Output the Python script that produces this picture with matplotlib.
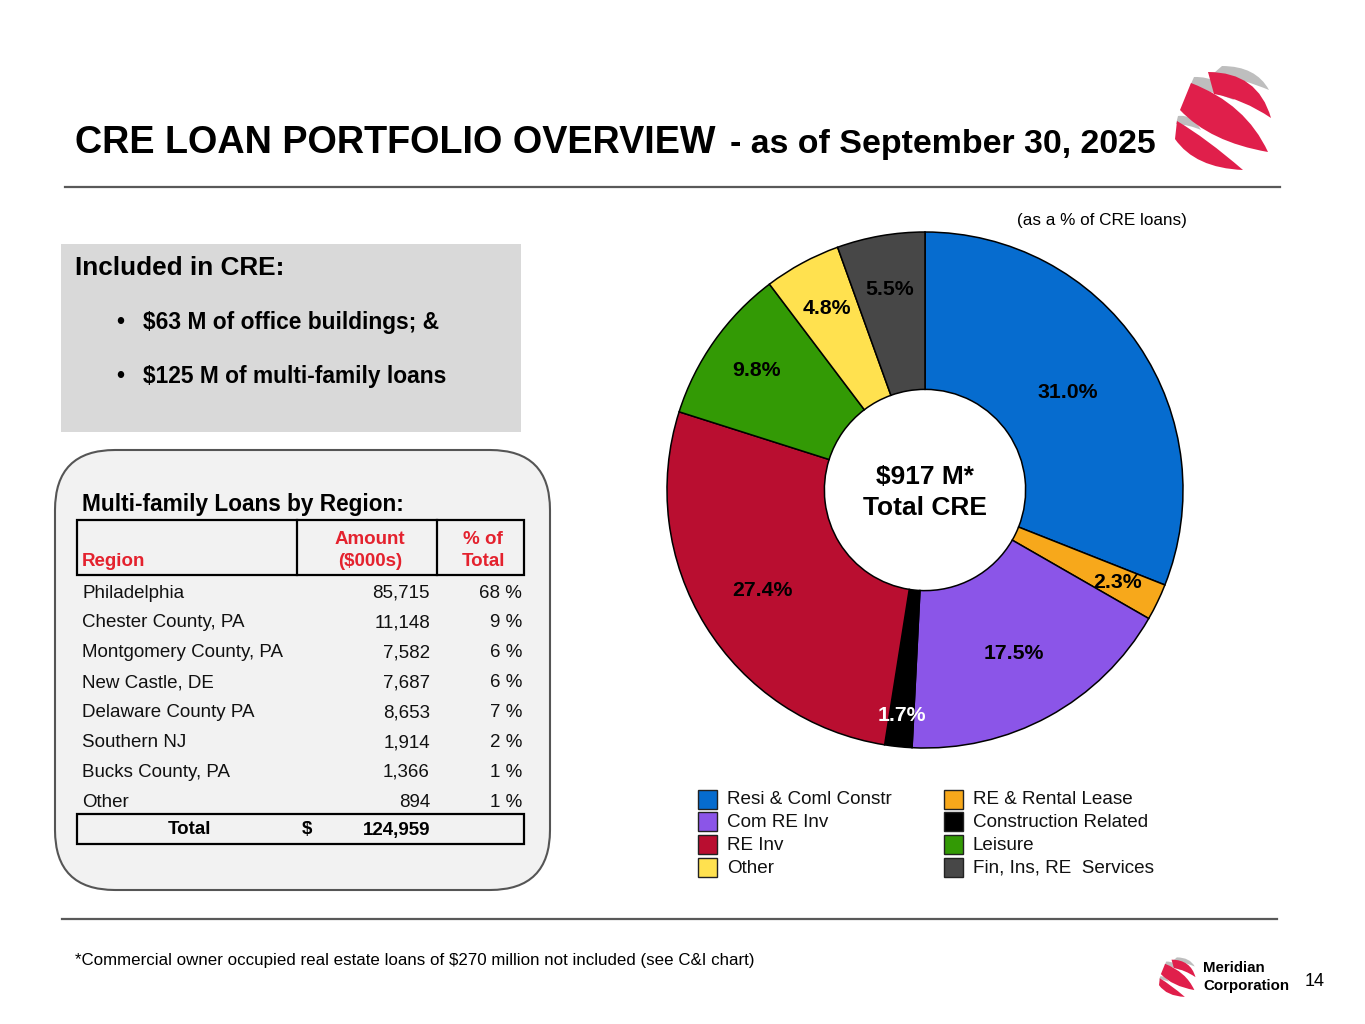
import matplotlib
matplotlib.use("Agg")
import matplotlib.pyplot as plt
from matplotlib.patches import Rectangle, FancyBboxPatch, PathPatch
from matplotlib.path import Path
import numpy as np

plt.rcParams["font.family"] = ["Liberation Sans", "DejaVu Sans"]

# pie data (clockwise from 12 o'clock)
segments = ["Resi & Coml Constr", "RE & Rental Lease", "Com RE Inv", "Construction Related",
            "RE Inv", "Leisure", "Other", "Fin, Ins, RE  Services"]
shares = [31.0, 2.3, 17.5, 1.7, 27.4, 9.8, 4.8, 5.5]
seg_colors = ["#066CCF", "#F7A81B", "#8B55E8", "#000000",
              "#B90E30", "#339A05", "#FFE14F", "#474747"]
# legend order (left column then right column)
legend_order = ["Resi & Coml Constr", "Com RE Inv", "RE Inv", "Other",
                "RE & Rental Lease", "Construction Related", "Leisure", "Fin, Ins, RE  Services"]

# multi-family table
regions = ["Philadelphia", "Chester County, PA", "Montgomery County, PA", "New Castle, DE",
           "Delaware County PA", "Southern NJ", "Bucks County, PA", "Other"]
amounts = [85715, 11148, 7582, 7687, 8653, 1914, 1366, 894]
pct_total = [68, 9, 6, 6, 7, 2, 1, 1]
total_amount = 124959

included = ["$63 M of office buildings; &", "$125 M of multi-family loans"]

RED_HDR = "#E4222E"

fig = plt.figure(figsize=(13.65, 10.24), dpi=100)
ax = fig.add_axes([0, 0, 1, 1])
ax.set_xlim(0, 1365)
ax.set_ylim(1024, 0)
ax.axis("off")

# title
t1 = ax.text(75, 153, "CRE LOAN PORTFOLIO OVERVIEW", fontsize=27.2, fontweight="bold",
             va="baseline", ha="left")
fig.canvas.draw()
bb = t1.get_window_extent(fig.canvas.get_renderer())
ax.text(bb.x1 + 14, 153, "- as of September 30, 2025", fontsize=24.4, fontweight="bold",
        va="baseline", ha="left")

ax.plot([65, 1280], [187, 187], color="#595959", lw=1.6)
ax.plot([62, 1277], [919, 919], color="#595959", lw=1.6)


def logo(x0, y0, s):
    # three twisted ribbons, rough likeness of the company mark
    grey = [
        [(1222, 66), (1256, 66), (1269, 90), (1245, 80), (1214, 73)],
        [(1194, 77), (1220, 76), (1234, 100), (1214, 92), (1190, 86)],
        [(1178, 116), (1192, 114), (1201, 130), (1190, 125), (1176, 124)],
    ]
    red = [
        [(1208, 72), (1258, 72), (1271, 118), (1243, 99), (1214, 94)],
        [(1191, 83), (1246, 104), (1268, 152), (1210, 142), (1180, 110)],
        [(1177, 121), (1206, 138), (1243, 170), (1195, 168), (1175, 139)],
    ]
    codes = [Path.MOVETO, Path.CURVE3, Path.CURVE3, Path.CURVE3, Path.CURVE3, Path.CLOSEPOLY]
    for shapes, col in [(grey, "#BEBEBE"), (red, "#E01F4B")]:
        for st in shapes:
            pts = [(x0 + s * (px - 1175), y0 + s * (py - 65)) for px, py in st]
            pts.append(pts[0])
            ax.add_patch(PathPatch(Path(pts, codes), fc=col, ec="none"))


logo(1175, 65, 1.0)
logo(1159, 957, 0.38)

# left gray box
ax.add_patch(Rectangle((61, 244), 460, 188, fc="#D9D9D9", ec="none"))
ax.text(75, 268, "Included in CRE:", fontsize=18.8, fontweight="bold", va="center")
for i, line in enumerate(included):
    y = 322 + i * 54
    ax.text(116, y, "\u2022", fontsize=16.4, fontweight="bold", va="center")
    ax.text(143, y, line, fontsize=16.4, fontweight="bold", va="center")

# rounded table box
ax.add_patch(FancyBboxPatch((55, 450), 495, 440, boxstyle="round,pad=0,rounding_size=60",
                            fc="#F2F2F2", ec="#555555", lw=1.5))
ax.text(82, 504, "Multi-family Loans by Region:", fontsize=16.3, fontweight="bold", va="center")
ax.add_patch(Rectangle((77, 520), 447, 55, fc="none", ec="black", lw=1.6))
ax.plot([297, 297], [520, 575], color="black", lw=1.6)
ax.plot([437, 437], [520, 575], color="black", lw=1.6)
ax.text(82, 562, "Region", fontsize=13.5, fontweight="bold", color=RED_HDR, va="center")
ax.text(370, 539, "Amount", fontsize=13.5, fontweight="bold", color=RED_HDR, va="center", ha="center")
ax.text(370, 562, "($000s)", fontsize=13.5, fontweight="bold", color=RED_HDR, va="center", ha="center")
ax.text(483, 539, "% of", fontsize=13.5, fontweight="bold", color=RED_HDR, va="center", ha="center")
ax.text(483, 562, "Total", fontsize=13.5, fontweight="bold", color=RED_HDR, va="center", ha="center")

for i, (reg, amt, pc) in enumerate(zip(regions, amounts, pct_total)):
    y = 593 + i * 29.9
    ax.text(82, y, reg, fontsize=13.5, va="center", color="#111111")
    ax.text(430, y, f"{amt:,}", fontsize=13.5, va="center", ha="right", color="#111111")
    ax.text(522, y, f"{pc} %", fontsize=13.5, va="center", ha="right", color="#111111")

ax.add_patch(Rectangle((77, 814), 447, 30, fc="none", ec="black", lw=1.6))
ax.text(189, 830, "Total", fontsize=13.5, fontweight="bold", va="center", ha="center")
ax.text(302, 830, "$", fontsize=13.5, fontweight="bold", va="center", ha="left")
ax.text(430, 830, f"{total_amount:,}", fontsize=13.5, fontweight="bold", va="center", ha="right")

# donut
ax.text(1187, 220, "(as a % of CRE loans)", fontsize=12.3, va="center", ha="right")
R_PX = 258
half = 272
cx, cy = 925, 490
pax = fig.add_axes([(cx - half) / 1365, (1024 - cy - half) / 1024, 2 * half / 1365, 2 * half / 1024])
wedges, _ = pax.pie(shares, colors=seg_colors, startangle=90, counterclock=False, radius=1,
                    wedgeprops=dict(width=0.61, edgecolor="black", linewidth=1.1))
lim = half / R_PX
pax.set_xlim(-lim, lim)
pax.set_ylim(-lim, lim)
pax.set_aspect("equal")
pax.axis("off")

label_r = [0.67, 0.83, 0.72, 0.88, 0.74, 0.80, 0.80, 0.79]
for w, v, c, r in zip(wedges, shares, seg_colors, label_r):
    ang = np.deg2rad((w.theta1 + w.theta2) / 2)
    col = "white" if c == "#000000" else "black"
    pax.text(r * np.cos(ang), r * np.sin(ang), f"{v:.1f}%", fontsize=15.3, fontweight="bold",
             ha="center", va="center", color=col)

pax.text(0, 0.052, "$917 M*", fontsize=19, fontweight="bold", ha="center", va="center")
pax.text(0, -0.068, "Total CRE", fontsize=19, fontweight="bold", ha="center", va="center")

# legend
for i, name in enumerate(legend_order):
    col_i, row_i = divmod(i, 4)
    x = 698 + col_i * 246
    y = 799 + row_i * 22.8
    ax.add_patch(Rectangle((x, y - 9.5), 19, 19, fc=seg_colors[segments.index(name)], ec="#222222", lw=1.0))
    ax.text(x + 29, y + 1, name, fontsize=13.6, va="center", color="#111111")

# footer
ax.text(75, 960, "*Commercial owner occupied real estate loans of $270 million not included (see C&I chart)",
        fontsize=12.2, va="center")
ax.text(1203, 968, "Meridian", fontsize=10.8, fontweight="bold", va="center")
ax.text(1203, 986, "Corporation", fontsize=10.8, fontweight="bold", va="center")
ax.text(1305, 981, "14", fontsize=13, va="center")

fig.savefig("out.png", dpi=100)
